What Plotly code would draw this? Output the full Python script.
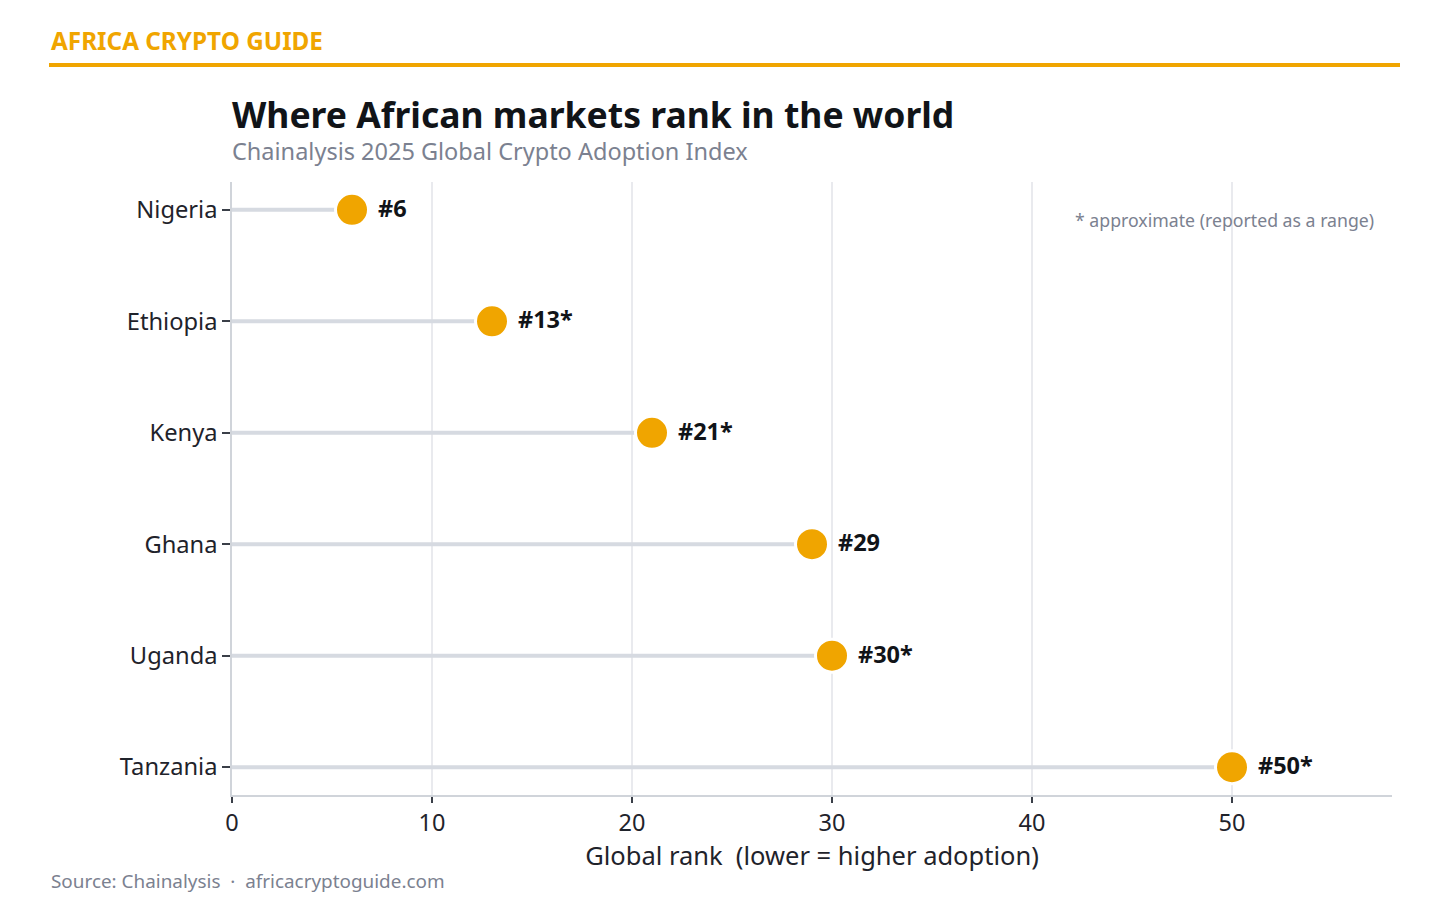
import plotly.graph_objects as go

countries = ["Nigeria", "Ethiopia", "Kenya", "Ghana", "Uganda", "Tanzania"]
ranks = [6, 13, 21, 29, 30, 50]
labels = ["#6", "#13*", "#21*", "#29", "#30*", "#50*"]

ORANGE = "#f0a500"
FONT = "Noto Sans"
DARK = "#1f232b"
GRAY = "#7b8190"

fig = go.Figure()

# stems
for c, r in zip(countries, ranks):
    fig.add_trace(go.Scatter(x=[0, r], y=[c, c], mode="lines",
                             line=dict(color="#d6dae1", width=4),
                             hoverinfo="skip", showlegend=False))

fig.add_trace(go.Scatter(x=ranks, y=countries, mode="markers",
                         marker=dict(size=33, color=ORANGE, line=dict(color="white", width=3)),
                         showlegend=False))

for c, r, l in zip(countries, ranks, labels):
    fig.add_annotation(x=r, y=c, text=f"<b>{l}</b>", showarrow=False,
                       xanchor="left", yanchor="middle", xshift=24, yshift=2,
                       font=dict(family=FONT, size=23.5, color="#111418"))

fig.update_layout(
    width=1450, height=913,
    margin=dict(l=232, r=58, t=182, b=118),
    paper_bgcolor="white", plot_bgcolor="white",
    font=dict(family=FONT, color=DARK),
    xaxis=dict(range=[0, 58], tickvals=[0, 10, 20, 30, 40, 50],
               showgrid=True, gridcolor="#e9eaee", gridwidth=1.5,
               zeroline=False, showline=True, linecolor="#d0d4da", linewidth=1.5,
               ticks="outside", ticklen=6, tickcolor="#3a3f48", tickwidth=1.5,
               tickfont=dict(size=23.5, color=DARK, family=FONT),
               title=dict(text="Global rank  (lower = higher adoption)",
                          font=dict(size=25.5, color=DARK, family=FONT), standoff=4)),
    yaxis=dict(categoryorder="array", categoryarray=countries,
               range=[5.25, -0.25], showgrid=False, zeroline=False,
               showline=True, linecolor="#d0d4da", linewidth=1.5,
               ticks="outside", ticklen=8, tickcolor="#3a3f48", tickwidth=1.5,
               tickfont=dict(size=23.7, color=DARK, family=FONT)),
)

# header
fig.add_annotation(xref="paper", yref="paper", x=(49 - 232) / 1160, y=1 + (182 - 41) / 613,
                   text="<b>AFRICA CRYPTO GUIDE</b>", showarrow=False,
                   xanchor="left", yanchor="middle",
                   font=dict(family=FONT, size=24.3, color=ORANGE))
fig.add_shape(type="line", xref="paper", yref="paper",
              x0=(49 - 232) / 1160, x1=(1400 - 232) / 1160,
              y0=1 + (182 - 65) / 613, y1=1 + (182 - 65) / 613,
              line=dict(color=ORANGE, width=4))

fig.add_annotation(xref="paper", yref="paper", x=-2 / 1160, y=1 + (182 - 114) / 613,
                   text="<b>Where African markets rank in the world</b>", showarrow=False,
                   xanchor="left", yanchor="middle",
                   font=dict(family=FONT, size=35.5, color="#111418"))
fig.add_annotation(xref="paper", yref="paper", x=-2 / 1160, y=1 + (182 - 151) / 613,
                   text="Chainalysis 2025 Global Crypto Adoption Index", showarrow=False,
                   xanchor="left", yanchor="middle",
                   font=dict(family=FONT, size=23.5, color=GRAY))

fig.add_annotation(xref="paper", yref="paper", x=(1376 - 232) / 1160, y=1 - (220 - 182) / 613,
                   text="* approximate (reported as a range)", showarrow=False,
                   xanchor="right", yanchor="middle",
                   font=dict(family=FONT, size=17.7, color=GRAY))

fig.add_annotation(xref="paper", yref="paper", x=(49 - 232) / 1160, y=-(881 - 795) / 613,
                   text="Source: Chainalysis  ·  africacryptoguide.com", showarrow=False,
                   xanchor="left", yanchor="middle",
                   font=dict(family=FONT, size=18.9, color=GRAY))

fig.write_html("out.html")
